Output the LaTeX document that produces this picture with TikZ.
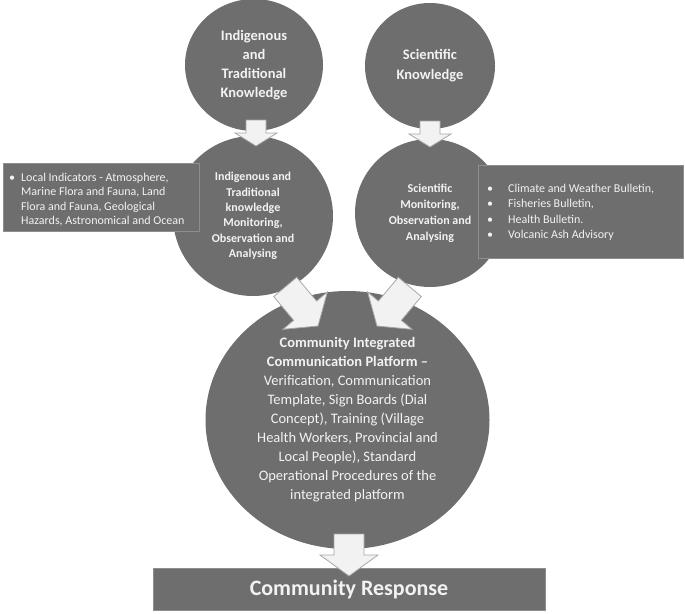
\documentclass[tikz,border=0pt]{standalone}
\usepackage{fontspec}
\setmainfont{Carlito}
\usetikzlibrary{shapes.geometric}
\definecolor{fillg}{HTML}{6E6E6E}
\definecolor{txt}{HTML}{F2F2F2}
\definecolor{arrf}{HTML}{F2F2F2}
\definecolor{arrd}{HTML}{A8A8A8}
\definecolor{edgeg}{HTML}{8E8E8E}
\tikzset{
  disc/.style={ellipse, fill=fillg, inner sep=0pt, text=txt, align=center},
  panel/.style={draw=edgeg, line width=0.8pt, fill=fillg},
  paneltext/.style={text=txt, inner sep=0pt, anchor=north west},
  arrowbody/.style={fill=arrf, draw=arrd, line width=0.8pt, line join=miter},
  pics/barrow/.style n args={4}{code={
    \draw[arrowbody] (0,0) -- (-#2,-#3) -- (-#1,-#3) -- (-#1,-#4) -- (#1,-#4) -- (#1,-#3) -- (#2,-#3) -- cycle;}}
}
\begin{document}
\begin{tikzpicture}[x=1pt,y=-1pt]
\useasboundingbox (0,0) rectangle (685,613);
% top circles
\node[disc, minimum width=138pt, minimum height=132pt,
      font=\bfseries\fontsize{14.5}{19}\selectfont] (ik) at (254,65)
      {Indigenous\\and\\Traditional\\Knowledge};
\node[disc, minimum width=130pt, minimum height=126pt,
      font=\bfseries\fontsize{14.5}{20}\selectfont] (sk) at (430,66)
      {Scientific\\Knowledge};
% monitoring circles
\node[disc, minimum width=160pt, minimum height=160pt,
      font=\bfseries\fontsize{12}{15.4}\selectfont] (im) at (253,216)
      {Indigenous and\\Traditional\\knowledge\\Monitoring,\\Observation and\\Analysing};
\node[disc, minimum width=150pt, minimum height=148pt,
      font=\bfseries\fontsize{12}{16}\selectfont] (sm) at (430,213)
      {Scientific\\Monitoring,\\Observation and\\Analysing};
% top arrows
\pic at (256,146) {barrow={10}{21}{13}{26}};
\pic at (430,147) {barrow={10}{21}{13}{26}};
% side panels
\draw[panel] (3,163) rectangle (199,231);
\node[paneltext, font=\fontsize{12}{14.5}\selectfont] (lt) at (9,171)
  {\begin{tabular}{@{}l@{\hspace{6pt}}l@{}}
   \textbullet & Local Indicators - Atmosphere,\\
   & Marine Flora and Fauna, Land\\
   & Flora and Fauna, Geological\\
   & Hazards, Astronomical and Ocean
   \end{tabular}};
\draw[panel] (478,165) rectangle (683,258);
\node[paneltext, font=\fontsize{12}{15.5}\selectfont] (rt) at (487,181)
  {\begin{tabular}{@{}l@{\hspace{15pt}}l@{}}
   \textbullet & Climate and Weather Bulletin,\\
   \textbullet & Fisheries Bulletin,\\
   \textbullet & Health Bulletin.\\
   \textbullet & Volcanic Ash Advisory
   \end{tabular}};
% big ellipse
\node[disc, minimum width=284pt, minimum height=258pt,
      font=\fontsize{14.5}{19}\selectfont] (cp) at (347.5,420)
      {\textbf{Community Integrated}\\\textbf{Communication Platform --}\\Verification, Communication\\Template, Sign Boards (Dial\\Concept), Training (Village\\Health Workers, Provincial and\\Local People), Standard\\Operational Procedures of the\\integrated platform};
% diagonal arrows
\pic[rotate=40] at (318,326) {barrow={15}{29}{20}{51}};
\pic[rotate=-40] at (377,326) {barrow={15}{29}{20}{51}};
% bottom panel
\draw[panel] (153,568) rectangle (545,610);
\node[text=txt, font=\bfseries\fontsize{22}{24}\selectfont] (cr) at (349,590) {Community Response};
\pic at (349,576) {barrow={15}{29}{21}{42}};
\end{tikzpicture}
\end{document}
